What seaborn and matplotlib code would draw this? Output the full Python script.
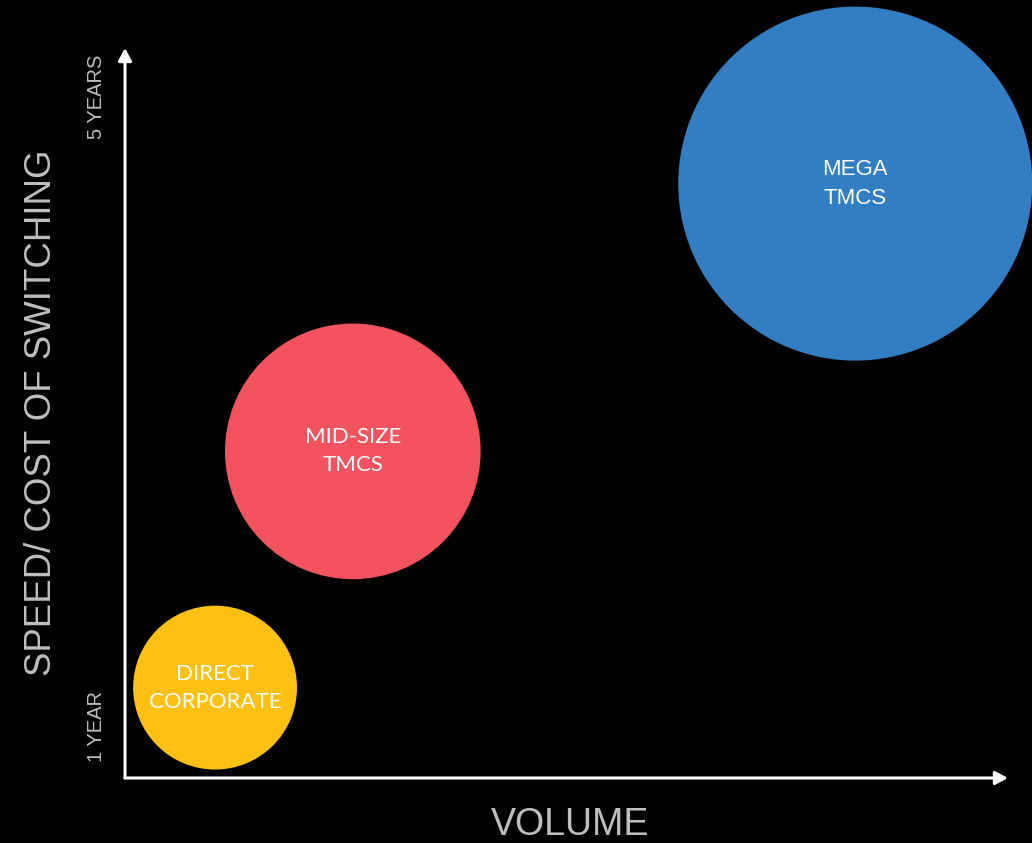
"""
Switching-cost bubble chart: volume vs speed/cost of switching
for three groups of travel buyers.
"""

import matplotlib
matplotlib.use("Agg")
import matplotlib.pyplot as plt
import pandas as pd
import seaborn as sns


# ── Data ──────────────────────────────────────────────────────────────────
groups       = ["DIRECT\nCORPORATE", "MID-SIZE\nTMCS", "MEGA\nTMCS"]
volume       = [10.2, 25.8, 82.7]          # relative volume (0-100)
switch_years = [1.25, 2.75, 4.45]          # years to switch
bubble_rel   = [1.0, 1.56, 2.16]           # relative bubble diameter

ytick_vals   = [1, 5]
ytick_labels = ["1 YEAR", "5 YEARS"]

# ── Style ─────────────────────────────────────────────────────────────────
colors     = ["#FDC013", "#F2535F", "#337EC2"]
label_font = ["Lato", "Lato", "Liberation Sans"]
BASE_DIAM  = 118      # points, diameter of the smallest bubble
GREY       = "#BFBFBF"

df = pd.DataFrame({"group": groups, "volume": volume, "years": switch_years})
sizes   = {g: (BASE_DIAM * r) ** 2 for g, r in zip(groups, bubble_rel)}
palette = dict(zip(groups, colors))

sns.set_style("dark")
plt.rcParams["font.family"] = ["Liberation Sans", "DejaVu Sans"]

fig = plt.figure(figsize=(10.32, 8.43), dpi=100, facecolor="black")
ax = fig.add_axes([125 / 1032, 65 / 843, 883 / 1032, 730 / 843])
ax.set_facecolor("black")

sns.scatterplot(data=df, x="volume", y="years", hue="group", size="group",
                palette=palette, sizes=sizes, linewidth=0, alpha=1,
                legend=False, clip_on=False, zorder=3, ax=ax)

for g, x, y, fnt in zip(groups, volume, switch_years, label_font):
    ax.text(x, y, g, color="white", ha="center", va="center",
            fontsize=16, family=[fnt, "DejaVu Sans"], linespacing=1.5,
            zorder=4)

ax.set_xlim(0, 100)
ax.set_ylim(0.676, 5.311)

# axes drawn as arrows
for end in [(1, 0), (0, 1)]:
    ax.annotate("", xy=end, xytext=(0, 0), xycoords="axes fraction",
                arrowprops=dict(arrowstyle="-|>,head_length=0.75,head_width=0.4",
                                color="white", lw=2.2, mutation_scale=10,
                                shrinkA=0, shrinkB=0))
for s in ax.spines.values():
    s.set_visible(False)
ax.grid(False)

ax.set_xticks([])
ax.set_yticks(ytick_vals)
ax.set_yticklabels(ytick_labels, rotation=90, va="center", color=GREY,
                   fontsize=14.5)
ax.tick_params(axis="y", length=0, pad=14)

ax.set_xlabel("VOLUME", color=GREY, fontsize=27, va="top")
ax.xaxis.set_label_coords(0.5035, -0.04)
ax.set_ylabel("SPEED/ COST OF SWITCHING", color=GREY, fontsize=26.4,
              va="center")
ax.yaxis.set_label_coords(-0.095, 0.50)

fig.savefig("out.png", dpi=100, facecolor="black")
